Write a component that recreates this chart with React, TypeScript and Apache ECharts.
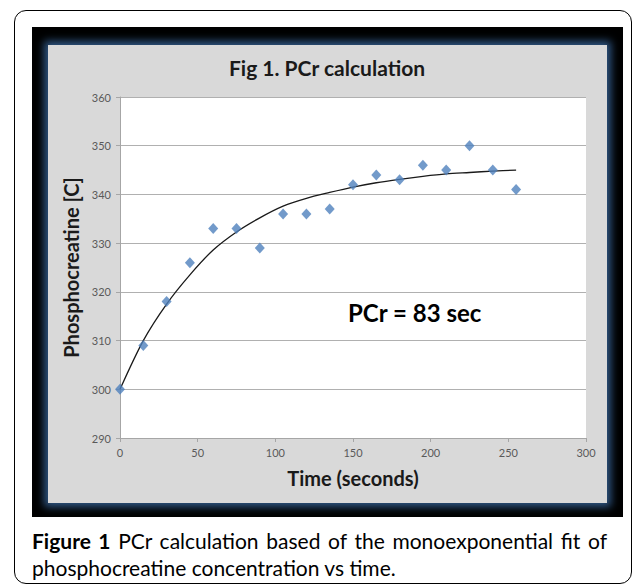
import React, { useEffect, useRef } from "react";
import * as echarts from "echarts";

const timePoints = [0, 15, 30, 45, 60, 75, 90, 105, 120, 135, 150, 165, 180, 195, 210, 225, 240, 255];
const measured = [300, 309, 318, 326, 333, 333, 329, 336, 336, 337, 342, 344, 343, 346, 345, 350, 345, 341];
const fitted = [300, 310, 317.5, 323.5, 328.6, 332.3, 335.2, 337.6, 339.2, 340.4, 341.5, 342.4, 343.1, 343.7, 344.2, 344.5, 344.8, 345];
const xTicks = { min: 0, max: 300, interval: 50 };
const yTicks = { min: 290, max: 360, interval: 10 };

const titleText = "Fig 1. PCr calculation";
const xName = "Time (seconds)";
const yName = "Phosphocreatine [C]";
const annotation = "PCr = 83 sec";
const captionBold = "Figure 1";
const captionLine1 = "PCr calculation based of the monoexponential fit of";
const captionLine2 = "phosphocreatine concentration vs time.";

const FONT = "Lato, 'Open Sans', sans-serif";

export default function App() {
  const ref = useRef<HTMLDivElement>(null);

  useEffect(() => {
    if (!ref.current) return;
    const chart = echarts.init(ref.current, undefined, { renderer: "svg" });
    chart.setOption({
      animation: false,
      textStyle: { fontFamily: FONT },
      title: {
        text: titleText,
        left: 327,
        top: 57,
        padding: 0,
        textAlign: "center",
        textStyle: { fontFamily: FONT, fontWeight: "bold", fontSize: 21, color: "#1a1a1a" },
      },
      grid: {
        left: 120,
        top: 97,
        right: 47,
        bottom: 147,
        show: true,
        backgroundColor: "#ffffff",
        borderWidth: 0,
      },
      xAxis: {
        type: "value",
        min: xTicks.min,
        max: xTicks.max,
        interval: xTicks.interval,
        name: xName,
        nameLocation: "middle",
        nameGap: 30,
        nameTextStyle: { fontFamily: FONT, fontWeight: "bold", fontSize: 20, color: "#1a1a1a" },
        axisLine: { show: true, lineStyle: { color: "#a6a6a6", width: 1 } },
        axisTick: { show: true, length: 4, lineStyle: { color: "#a6a6a6" } },
        axisLabel: { fontFamily: FONT, fontSize: 11, color: "#595959", margin: 9 },
        splitLine: { show: false },
      },
      yAxis: {
        type: "value",
        min: yTicks.min,
        max: yTicks.max,
        interval: yTicks.interval,
        name: yName,
        nameLocation: "middle",
        nameGap: 33,
        nameTextStyle: { fontFamily: FONT, fontWeight: "bold", fontSize: 20, color: "#1a1a1a" },
        axisLine: { show: true, lineStyle: { color: "#a6a6a6", width: 1 } },
        axisTick: { show: true, length: 4, lineStyle: { color: "#a6a6a6" } },
        axisLabel: { fontFamily: FONT, fontSize: 11, color: "#595959", margin: 9 },
        splitLine: { show: true, lineStyle: { color: "#b0b0b0", width: 1 } },
      },
      graphic: [
        {
          type: "text",
          left: 348,
          top: 300,
          style: {
            text: annotation,
            fontFamily: FONT,
            fontWeight: "bold",
            fontSize: 24,
            fill: "#000000",
          },
          z: 10,
        },
      ],
      series: [
        {
          type: "line",
          data: timePoints.map((t, i) => [t, fitted[i]]),
          smooth: 0.3,
          showSymbol: false,
          lineStyle: { color: "#1a1a1a", width: 1.3 },
          z: 2,
        },
        {
          type: "scatter",
          data: timePoints.map((t, i) => [t, measured[i]]),
          symbol: "diamond",
          symbolSize: [10, 11],
          itemStyle: { color: "#4f81bd" },
          z: 3,
        },
      ],
    });
    return () => chart.dispose();
  }, []);

  return (
    <div style={{ position: "absolute", left: 0, top: 0, width: 633, height: 585, background: "#fff", overflow: "hidden" }}>
      <div
        style={{
          position: "absolute",
          left: 14,
          top: 10,
          width: 618,
          height: 574,
          border: "1.5px solid #000",
          borderRadius: 12,
          boxSizing: "border-box",
        }}
      />
      <div style={{ position: "absolute", left: 32, top: 27, width: 591, height: 490, background: "#000" }} />
      <div
        style={{
          position: "absolute",
          left: 48,
          top: 45,
          width: 559,
          height: 458,
          background: "#d9d9d9",
          boxShadow: "0 0 8px 4px #2f5683",
        }}
      />
      <div ref={ref} style={{ position: "absolute", left: 0, top: 0, width: 633, height: 585 }} />
      <div
        style={{
          position: "absolute",
          left: 32,
          top: 527,
          width: 575,
          fontFamily: FONT,
          fontSize: 21,
          lineHeight: "27px",
          color: "#000",
        }}
      >
        <div style={{ textAlign: "justify", textAlignLast: "justify" as any, whiteSpace: "nowrap" }}>
          <b>{captionBold}</b> {captionLine1}
        </div>
        <div>{captionLine2}</div>
      </div>
    </div>
  );
}
